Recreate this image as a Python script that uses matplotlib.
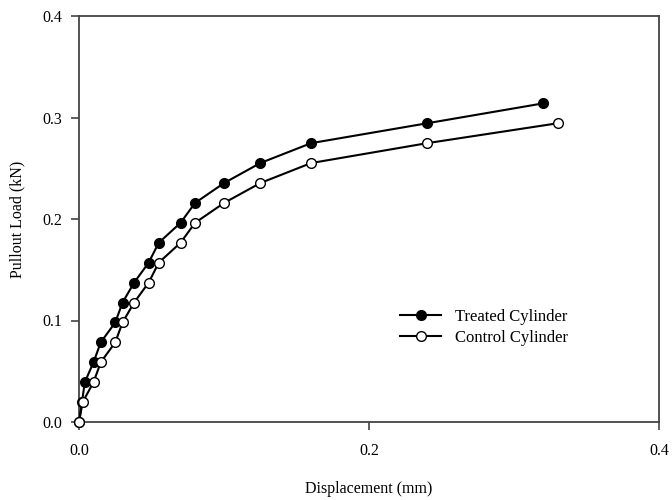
import matplotlib
matplotlib.use("Agg")
import matplotlib.pyplot as plt

# load steps (kN) and measured displacements (mm)
treated_disp = [0, 0.002, 0.004, 0.010, 0.015, 0.025, 0.030, 0.038, 0.048, 0.055,
                0.070, 0.080, 0.100, 0.125, 0.160, 0.240, 0.320]
treated_load = [0, 0.0196, 0.0392, 0.0589, 0.0785, 0.0981, 0.1177, 0.1373, 0.1570,
                0.1766, 0.1962, 0.2158, 0.2354, 0.2551, 0.2747, 0.2943, 0.3139]

control_disp = [0, 0.0025, 0.010, 0.015, 0.025, 0.030, 0.038, 0.048, 0.055,
                0.070, 0.080, 0.100, 0.125, 0.160, 0.240, 0.330]
control_load = [0, 0.0196, 0.0392, 0.0589, 0.0785, 0.0981, 0.1177, 0.1373, 0.1570,
                0.1766, 0.1962, 0.2158, 0.2354, 0.2551, 0.2747, 0.2943]

x_ticks = [0.0, 0.2, 0.4]
y_ticks = [0.0, 0.1, 0.2, 0.3, 0.4]

plt.rcParams['font.family'] = ['Liberation Serif', 'DejaVu Serif']

fig = plt.figure(figsize=(6.72, 5.0), dpi=100)
ax = fig.add_axes([0.1176, 0.156, 0.8631, 0.812])

ax.plot(treated_disp, treated_load, color='black', lw=1.5, marker='o', ms=7,
        mfc='black', mec='black', label='Treated Cylinder', clip_on=False, zorder=3)
ax.plot(control_disp, control_load, color='black', lw=1.5, marker='o', ms=7,
        mfc='white', mec='black', mew=1.0, label='Control Cylinder', clip_on=False, zorder=4)

ax.set_xlim(0, 0.4)
ax.set_ylim(0, 0.4)
ax.set_xticks(x_ticks)
ax.set_yticks(y_ticks)
ax.set_xticklabels([f"{v:.1f}" for v in x_ticks])
ax.set_yticklabels([f"{v:.1f}" for v in y_ticks])
ax.tick_params(direction='out', length=6, width=1.2, color='#444444', labelsize=11.5, pad=6)
ax.tick_params(axis='x', top=False, pad=9)
for s in ax.spines.values():
    s.set_color('#444444')
    s.set_linewidth(1.3)

ax.set_xlabel('Displacement (mm)', fontsize=11.5, labelpad=16)
ax.set_ylabel('Pullout Load (kN)', fontsize=11.5, labelpad=12)

ax.legend(loc='upper left', bbox_to_anchor=(0.527, 0.315), frameon=False, fontsize=12,
          handlelength=2.5, handletextpad=0.8, labelspacing=0.3)

fig.savefig('out.png', dpi=100)
